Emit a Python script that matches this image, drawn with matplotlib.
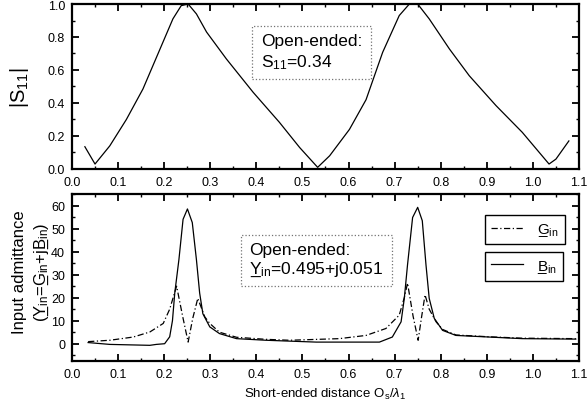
import matplotlib
matplotlib.use("Agg")
import matplotlib.pyplot as plt
from matplotlib.ticker import MultipleLocator, FormatStrFormatter

plt.rcParams['font.family'] = ['Liberation Sans', 'DejaVu Sans']
plt.rcParams['mathtext.fontset'] = 'custom'
plt.rcParams['mathtext.rm'] = 'Liberation Sans'
plt.rcParams['mathtext.it'] = 'Liberation Sans:italic'
plt.rcParams['mathtext.bf'] = 'Liberation Sans:bold'

# |S11| versus short-ended distance
s_x = [0.028, 0.050, 0.082, 0.118, 0.154, 0.191, 0.219, 0.237, 0.252, 0.270,
       0.292, 0.335, 0.393, 0.450, 0.494, 0.533, 0.559, 0.602, 0.638, 0.674,
       0.710, 0.732, 0.750, 0.775, 0.819, 0.862, 0.920, 0.977, 1.035, 1.050,
       1.078]
s_y = [0.135, 0.03, 0.14, 0.30, 0.485, 0.727, 0.91, 0.99, 1.0, 0.94,
       0.83, 0.667, 0.465, 0.283, 0.13, 0.01, 0.08, 0.24, 0.42, 0.707,
       0.93, 1.0, 1.0, 0.91, 0.727, 0.565, 0.384, 0.222, 0.03, 0.06,
       0.17]

# input admittance, real part (G) and imaginary part (B)
g_x = [0.035, 0.082, 0.133, 0.169, 0.198, 0.212, 0.227, 0.240, 0.252, 0.262,
       0.273, 0.288, 0.299, 0.320, 0.357, 0.421, 0.472, 0.580, 0.638, 0.681,
       0.710, 0.721, 0.728, 0.740, 0.751, 0.758, 0.766, 0.775, 0.790, 0.804,
       0.833, 0.905, 0.977, 1.093]
g_y = [0.9, 1.5, 2.9, 5.1, 8.8, 15.0, 25.0, 12.0, 0.7, 11.0,
       19.7, 11.7, 8.8, 5.0, 2.8, 1.9, 1.5, 2.2, 3.6, 6.6,
       12.4, 20.0, 26.3, 12.0, 1.5, 11.0, 21.2, 15.0, 9.5, 6.2,
       3.8, 3.0, 2.4, 2.2]

b_x = [0.035, 0.082, 0.169, 0.183, 0.201, 0.212, 0.218, 0.223, 0.232, 0.241,
       0.2505, 0.261, 0.270, 0.277, 0.284, 0.299, 0.320, 0.357, 0.421, 0.530,
       0.667, 0.695, 0.714, 0.721, 0.728, 0.739, 0.750, 0.760, 0.768, 0.775,
       0.786, 0.804, 0.833, 0.905, 0.977, 1.093]
b_y = [0.5, -0.3, -0.7, -0.3, 0.0, 3.0, 10.0, 22.0, 36.5, 54.0,
       58.5, 52.6, 36.5, 22.0, 13.0, 7.3, 4.4, 2.2, 1.5, 0.7,
       0.7, 2.9, 9.5, 19.7, 34.3, 54.8, 59.2, 53.4, 34.3, 19.7,
       11.0, 5.8, 3.6, 2.9, 2.2, 2.0]


def under_in(letter, back, fwd):
    # letter with an underscore slid back beneath it, then subscript "in"
    return (r'$\mathrm{%s}\hspace{-%.2f}\_\hspace{%.2f}{}_{\mathrm{in}}$'
            % (letter, back, fwd))


Y_IN = under_in('Y', 0.73, 0.07)
G_IN = under_in('G', 0.80, 0.13)
B_IN = under_in('B', 0.73, 0.07)

fig = plt.figure(figsize=(5.88, 4.10), dpi=100)
ax1 = fig.add_axes([0.1224, 0.5854, 0.8623, 0.4024])
ax2 = fig.add_axes([0.1224, 0.1171, 0.8623, 0.4073])

ax1.plot(s_x, s_y, color='black', lw=0.9)
ax2.plot(g_x, g_y, color='black', lw=0.9, ls=(0, (5, 2, 1, 2)), label=G_IN)
ax2.plot(b_x, b_y, color='black', lw=0.9, label=B_IN)

for ax in (ax1, ax2):
    ax.set_xlim(0, 1.1)
    ax.xaxis.set_major_locator(MultipleLocator(0.1))
    ax.xaxis.set_minor_locator(MultipleLocator(0.05))
    ax.xaxis.set_major_formatter(FormatStrFormatter('%.1f'))
    ax.tick_params(which='both', direction='in', top=True, right=True,
                   labelsize=9, pad=5)
    ax.tick_params(which='major', length=5, width=1.3)
    ax.tick_params(which='minor', length=2.5, width=1.0)
    for sp in ax.spines.values():
        sp.set_linewidth(1.6)

ax1.set_ylim(0, 1.0)
ax1.yaxis.set_major_locator(MultipleLocator(0.2))
ax1.yaxis.set_minor_locator(MultipleLocator(0.1))
ax1.yaxis.set_major_formatter(FormatStrFormatter('%.1f'))

ax2.set_ylim(-7.5, 65)
ax2.yaxis.set_major_locator(MultipleLocator(10))
ax2.yaxis.set_minor_locator(MultipleLocator(5))
ax2.set_yticks([0, 10, 20, 30, 40, 50, 60])
ax2.set_yticklabels(['0', '10', '20', '30', '40', '50', '60'])

ax1.set_ylabel(r'|S$_{11}$|', fontsize=14.5, labelpad=12)
fig.text(0.034, 0.335, 'Input admittance', rotation=90, fontsize=12,
         ha='center', va='center')
fig.text(0.071, 0.335, '(' + Y_IN + '=' + G_IN + '+j' + B_IN + ')',
         rotation=90, fontsize=12, ha='center', va='center')
ax2.set_xlabel(r'Short-ended distance O$_{\mathrm{s}}$/$\lambda_{1}$',
               fontsize=9.5, labelpad=4)

box = dict(boxstyle='square,pad=0.5', fc='none', ec='0.45', ls=':', lw=0.9)
ax1.text(0.41, 0.71, 'Open-ended:\n' + r'S$_{11}$=0.34', fontsize=12.5,
         ha='left', va='center', linespacing=1.3, bbox=box)
ax2.text(0.385, 36.5, 'Open-ended:\n' + Y_IN + '=0.495+j0.051',
         fontsize=12.5, ha='left', va='center', linespacing=1.2, bbox=box)

h, l = ax2.get_legend_handles_labels()
leg_style = dict(fontsize=11, fancybox=False, framealpha=1, edgecolor='black',
                 handlelength=2.1, handletextpad=0.9, borderpad=0.4,
                 borderaxespad=0, loc='upper right')
leg1 = ax2.legend([h[0]], [l[0]], bbox_to_anchor=(0.972, 0.875), **leg_style)
leg1.get_frame().set_linewidth(1.0)
ax2.add_artist(leg1)
leg2 = ax2.legend([h[1]], [l[1]], bbox_to_anchor=(0.968, 0.655), **leg_style)
leg2.get_frame().set_linewidth(1.0)

fig.savefig('out.png', dpi=100)
